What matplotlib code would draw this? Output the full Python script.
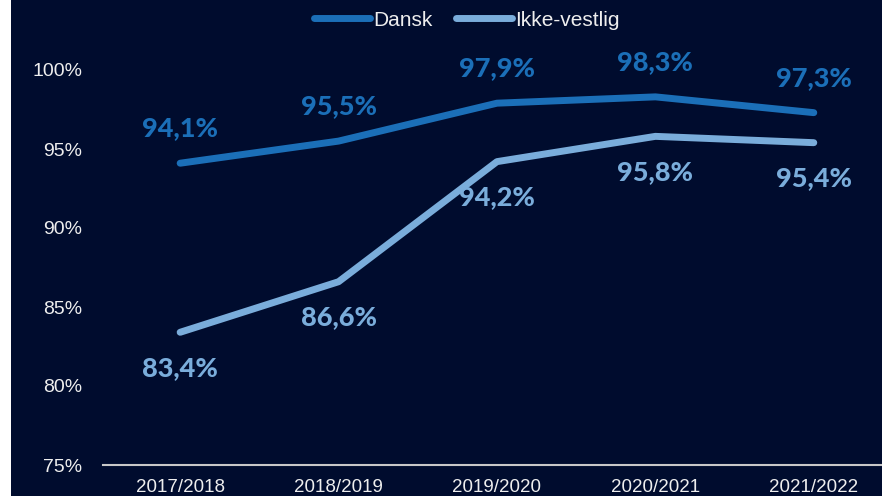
import matplotlib.pyplot as plt
from matplotlib.patches import Rectangle

years = ['2017/2018', '2018/2019', '2019/2020', '2020/2021', '2021/2022']
dansk = [94.1, 95.5, 97.9, 98.3, 97.3]
ikke_vestlig = [83.4, 86.6, 94.2, 95.8, 95.4]

bg = '#000c2e'
c_dansk = '#1b6fb8'
c_ikke = '#7aaddb'
txt = '#eeeeee'

fig = plt.figure(figsize=(8.82, 4.96), dpi=100, facecolor=bg)
# thin white strip on the left edge
fig.patches.append(Rectangle((0, 0), 11 / 882, 1, transform=fig.transFigure,
                             facecolor='white', edgecolor='none', zorder=10))

# axes: x from 103px to ~891px, y from 465px (75%) to 70px (100%)
ax = fig.add_axes([103 / 882, (496 - 465) / 496, 790 / 882, 395 / 496])
ax.set_facecolor('none')
x = list(range(len(years)))

ax.plot(x, dansk, color=c_dansk, lw=5, solid_capstyle='round', solid_joinstyle='round', label='Dansk')
ax.plot(x, ikke_vestlig, color=c_ikke, lw=5, solid_capstyle='round', solid_joinstyle='round', label='Ikke-vestlig')

for xi, v in zip(x, dansk):
    ax.annotate(f'{v:.1f}%'.replace('.', ','), (xi, v), xytext=(0, 25), textcoords='offset points',
                ha='center', va='center', color=c_dansk, fontsize=19.5, fontweight='black', family='Lato')
for xi, v in zip(x, ikke_vestlig):
    ax.annotate(f'{v:.1f}%'.replace('.', ','), (xi, v), xytext=(0, -25.5), textcoords='offset points',
                ha='center', va='center', color=c_ikke, fontsize=19.5, fontweight='black', family='Lato')

ax.set_xlim(-0.487, 4.5)
ax.set_ylim(75, 100)
ax.set_yticks([75, 80, 85, 90, 95, 100])
ax.set_yticklabels([f'{t}%' for t in [75, 80, 85, 90, 95, 100]], fontsize=14, color=txt, family='Liberation Sans')
ax.set_xticks(x)
ax.set_xticklabels(years, fontsize=13.5, color=txt, family='Liberation Sans')
ax.tick_params(axis='both', length=0)
ax.tick_params(axis='y', pad=15)
ax.tick_params(axis='x', pad=10)
for s in ['top', 'right', 'left']:
    ax.spines[s].set_visible(False)
ax.spines['bottom'].set_color('#c8c8c8')
ax.spines['bottom'].set_linewidth(1.5)

leg = fig.legend(loc='center', bbox_to_anchor=(467 / 882, 1 - 20 / 496), ncol=2, frameon=False,
                 handlelength=2.7, columnspacing=1.1, handletextpad=0.15,
                 prop={'family': 'Liberation Sans', 'size': 15})
for t in leg.get_texts():
    t.set_color(txt)

fig.savefig('out.png', dpi=100, facecolor=bg)
